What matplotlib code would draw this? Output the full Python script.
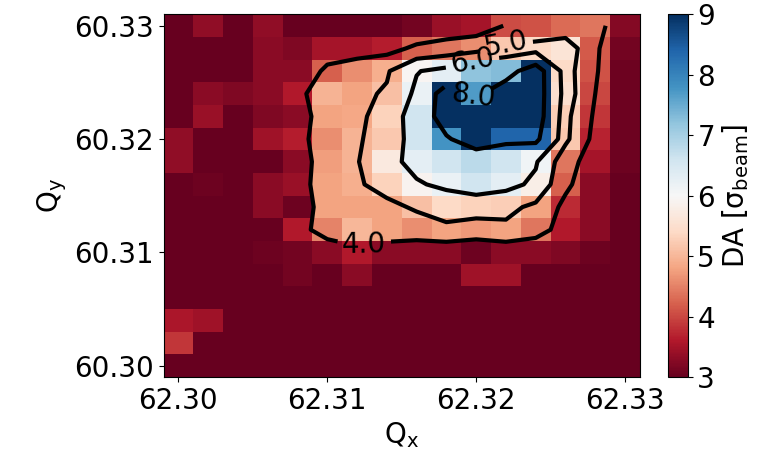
import numpy as np
import matplotlib
matplotlib.use("Agg")
import matplotlib.pyplot as plt

# tune grid (cell centres)
qx = [62.300, 62.302, 62.304, 62.306, 62.308, 62.310, 62.312, 62.314,
      62.316, 62.318, 62.320, 62.322, 62.324, 62.326, 62.328, 62.330]
qy = [60.300, 60.302, 60.304, 60.306, 60.308, 60.310, 60.312, 60.314,
      60.316, 60.318, 60.320, 60.322, 60.324, 60.326, 60.328, 60.330]

# DA values, one row per qy (bottom -> top), one column per qx
da_y0  = [3.0]*16
da_y1  = [3.85] + [3.0]*15
da_y2  = [3.55, 3.45] + [3.0]*14
da_y3  = [3.0]*16
da_y4  = [3.0, 3.0, 3.0, 3.0, 3.1, 3.0, 3.3, 3.0, 3.0, 3.0, 3.45, 3.45, 3.0, 3.0, 3.0, 3.0]
da_y5  = [3.0, 3.0, 3.0, 3.05, 3.1, 3.3, 3.6, 3.3, 3.3, 3.3, 3.05, 3.3, 3.3, 3.2, 3.05, 3.0]
da_y6  = [3.0, 3.0, 3.0, 3.0, 3.6, 4.5, 5.0, 4.8, 4.6, 4.8, 4.7, 4.8, 4.4, 3.6, 3.3, 3.0]
da_y7  = [3.0, 3.0, 3.0, 3.3, 3.05, 4.8, 4.8, 4.8, 5.1, 5.4, 5.3, 5.25, 4.8, 3.75, 3.3, 3.0]
da_y8  = [3.0, 3.05, 3.0, 3.3, 3.4, 4.8, 4.9, 5.3, 5.9, 6.2, 6.6, 6.3, 5.8, 4.2, 3.3, 3.0]
da_y9  = [3.35, 3.0, 3.0, 3.0, 3.3, 4.75, 4.95, 5.7, 6.3, 6.6, 6.8, 6.6, 6.1, 4.4, 3.5, 3.05]
da_y10 = [3.35, 3.0, 3.0, 3.45, 3.65, 4.6, 4.95, 5.2, 6.6, 7.8, 9.0, 8.4, 8.4, 5.2, 3.7, 3.05]
da_y11 = [3.0, 3.4, 3.0, 3.2, 3.3, 4.8, 4.85, 5.3, 6.6, 9.0, 9.0, 9.0, 9.0, 5.25, 3.85, 3.05]
da_y12 = [3.0, 3.3, 3.2, 3.3, 3.6, 4.95, 4.8, 5.1, 6.2, 9.0, 7.7, 9.0, 9.0, 5.5, 4.0, 3.05]
da_y13 = [3.0, 3.0, 3.0, 3.3, 3.3, 4.2, 4.6, 4.9, 5.95, 6.3, 7.2, 7.3, 9.0, 5.4, 4.1, 3.05]
da_y14 = [3.0, 3.0, 3.0, 3.3, 3.2, 3.5, 3.5, 3.65, 4.2, 4.4, 4.6, 5.2, 5.4, 5.6, 4.15, 3.1]
da_y15 = [3.0, 3.35, 3.0, 3.35, 3.0, 3.0, 3.0, 3.0, 3.1, 3.4, 3.5, 4.05, 4.1, 4.3, 4.4, 3.25]

contour_levels = [4, 5, 6, 8]
x_ticks = [62.30, 62.31, 62.32, 62.33]
y_ticks = [60.30, 60.31, 60.32, 60.33]
cbar_ticks = [3, 4, 5, 6, 7, 8, 9]

Z = np.array([da_y0, da_y1, da_y2, da_y3, da_y4, da_y5, da_y6, da_y7,
              da_y8, da_y9, da_y10, da_y11, da_y12, da_y13, da_y14, da_y15])
X = np.array(qx)
Y = np.array(qy)

plt.rcParams['font.size'] = 20
fig = plt.figure(figsize=(7.61, 4.66), dpi=100)
ax = fig.add_axes([0.2149, 0.191, 0.626, 0.778])
cax = fig.add_axes([0.878, 0.191, 0.0256, 0.778])

pc = ax.pcolormesh(X, Y, Z, cmap='RdBu', vmin=3, vmax=9, shading='nearest')
cs = ax.contour(X, Y, Z, levels=contour_levels, colors='k', linewidths=3)
ax.clabel(cs, fmt='%.1f', fontsize=20, inline=True,
          manual=[(62.3125, 60.3104), (62.3220, 60.3285),
                  (62.3198, 60.3265), (62.3198, 60.3238)])

ax.set_xticks(x_ticks)
ax.set_yticks(y_ticks)
ax.set_xticklabels([f"{v:.2f}" for v in x_ticks])
ax.set_yticklabels([f"{v:.2f}" for v in y_ticks])
ax.set_xlabel(r'Q$_\mathrm{x}$')
ax.set_ylabel(r'Q$_\mathrm{y}$')

cb = fig.colorbar(pc, cax=cax, ticks=cbar_ticks)
cb.set_label('DA [σ$_\\mathrm{beam}$]')

fig.savefig('out.png', dpi=100)
